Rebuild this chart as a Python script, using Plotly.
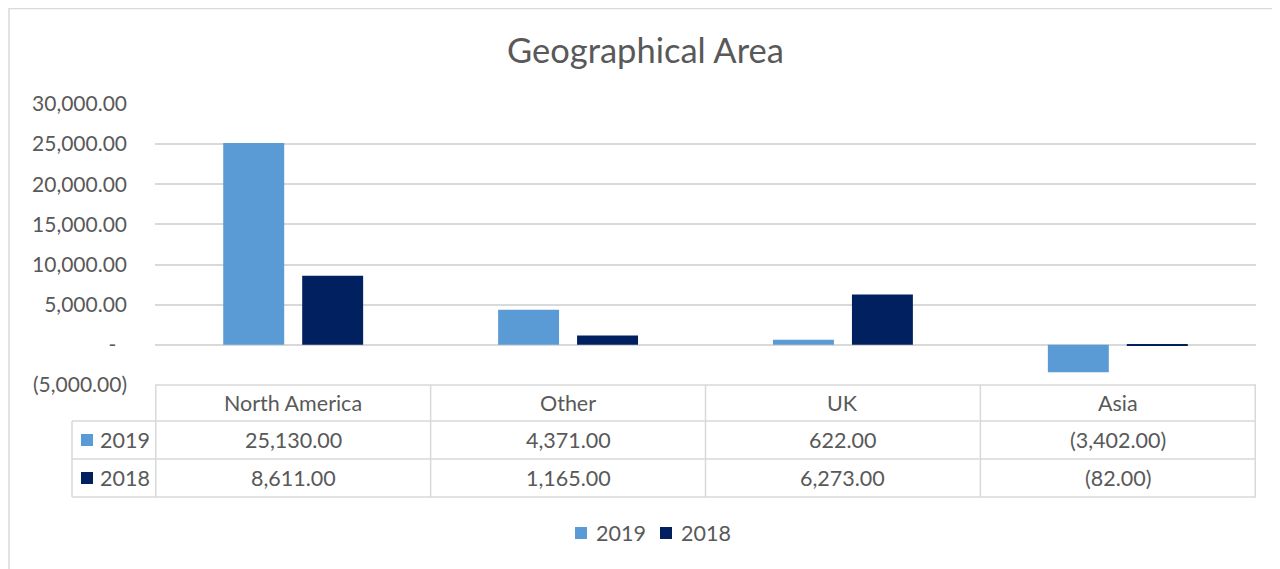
import plotly.graph_objects as go

# ---- data ----
categories = ["North America", "Other", "UK", "Asia"]
series_names = ["2019", "2018"]
values_2019 = [25130.00, 4371.00, 622.00, -3402.00]
values_2018 = [8611.00, 1165.00, 6273.00, -82.00]
y_ticks = [-5000, 0, 5000, 10000, 15000, 20000, 25000, 30000]
title_text = "Geographical Area"

# ---- styles ----
COL_2019 = "#5B9BD5"
COL_2018 = "#002060"
TXT = "#595959"
GRID = "#D9D9D9"
FONT = "Lato, 'Liberation Sans', Arial, sans-serif"
OFF = 8  # page body margin offset
W, H = 1280 - OFF, 569 - OFF
# target positions in screen pixels
L, R, T, B = 155, 1256, 104, 385


def fmt(v):
    if v == 0:
        return "-\u00a0\u00a0"
    if v < 0:
        return f"({abs(v):,.2f})"
    return f"{v:,.2f}"


def px(x):
    return (x - L) / (R - L)


def py(y):
    return (B - y) / (B - T)


fig = go.Figure()
series_vals = [values_2019, values_2018]
series_cols = [COL_2019, COL_2018]
for name, vals, col in zip(series_names, series_vals, series_cols):
    fig.add_trace(go.Bar(x=categories, y=vals, name=name, marker_color=col,
                         marker_line_width=0, showlegend=False))

shapes = []
annotations = []

# chart outer border
shapes.append(dict(type="rect", xref="paper", yref="paper",
                   x0=px(9), x1=px(1300), y0=py(8.5), y1=py(620),
                   line=dict(color=GRID, width=1.5), fillcolor="rgba(0,0,0,0)"))

# title
annotations.append(dict(text=title_text, xref="paper", yref="paper",
                        x=px(645), y=py(50), xanchor="center", yanchor="middle",
                        showarrow=False, font=dict(family=FONT, size=34.5, color=TXT)))

# data table lines
row_y = [385, 421, 459, 497]
tline = dict(color=GRID, width=1.5)
shapes.append(dict(type="line", xref="paper", yref="paper",
                   x0=px(L), x1=px(R), y0=py(385), y1=py(385), line=tline))
for yy in row_y[1:]:
    shapes.append(dict(type="line", xref="paper", yref="paper",
                       x0=px(72), x1=px(R), y0=py(yy), y1=py(yy), line=tline))
shapes.append(dict(type="line", xref="paper", yref="paper",
                   x0=px(72), x1=px(72), y0=py(421), y1=py(497), line=tline))
for i in range(len(categories) + 1):
    shapes.append(dict(type="line", xref="x", yref="paper",
                       x0=i - 0.5, x1=i - 0.5, y0=py(385), y1=py(497), line=tline))

cell_font = dict(family=FONT, size=21.5, color=TXT)
row_centers = [(row_y[i] + row_y[i + 1]) / 2 for i in range(3)]
for c in categories:
    annotations.append(dict(text=c, xref="x", yref="paper", x=c, y=py(row_centers[0]),
                            xanchor="center", yanchor="middle", showarrow=False,
                            font=cell_font))
for r, (name, vals, col) in enumerate(zip(series_names, series_vals, series_cols)):
    yc = row_centers[r + 1]
    shapes.append(dict(type="rect", xref="paper", yref="paper",
                       x0=px(81), x1=px(93), y0=py(yc - 6), y1=py(yc + 6),
                       fillcolor=col, line=dict(width=0)))
    annotations.append(dict(text=name, xref="paper", yref="paper", x=px(98), y=py(yc),
                            xanchor="left", yanchor="middle", showarrow=False,
                            font=cell_font))
    for c, v in zip(categories, vals):
        annotations.append(dict(text=fmt(v), xref="x", yref="paper", x=c, y=py(yc),
                                xanchor="center", yanchor="middle", showarrow=False,
                                font=cell_font))

# legend (bottom)
leg_y = 533
leg_items = [(575, series_names[0], COL_2019), (660, series_names[1], COL_2018)]
for x0, name, col in leg_items:
    shapes.append(dict(type="rect", xref="paper", yref="paper",
                       x0=px(x0), x1=px(x0 + 12), y0=py(leg_y - 6), y1=py(leg_y + 6),
                       fillcolor=col, line=dict(width=0)))
    annotations.append(dict(text=name, xref="paper", yref="paper", x=px(x0 + 19), y=py(leg_y),
                            xanchor="left", yanchor="middle", showarrow=False,
                            font=cell_font))

fig.update_layout(
    width=W, height=H,
    margin=dict(l=L - OFF, r=1280 - R, t=T - OFF, b=569 - B, pad=0),
    paper_bgcolor="white", plot_bgcolor="white",
    barmode="group", bargap=0.4255, bargroupgap=0.228,
    shapes=shapes, annotations=annotations,
    showlegend=False,
    font=dict(family=FONT, color=TXT),
)
fig.update_xaxes(showticklabels=False, showgrid=False, zeroline=False,
                 showline=False, ticks="", categoryorder="array", categoryarray=categories)
fig.update_yaxes(range=[-5000, 30000], tickvals=y_ticks, ticktext=[fmt(v) for v in y_ticks],
                 showgrid=True, gridcolor=GRID, gridwidth=1.5,
                 zeroline=True, zerolinecolor=GRID, zerolinewidth=1.5,
                 showline=False, ticks="", ticklabelstandoff=27,
                 tickfont=dict(family=FONT, size=21, color=TXT))

fig.write_html("out.html")
